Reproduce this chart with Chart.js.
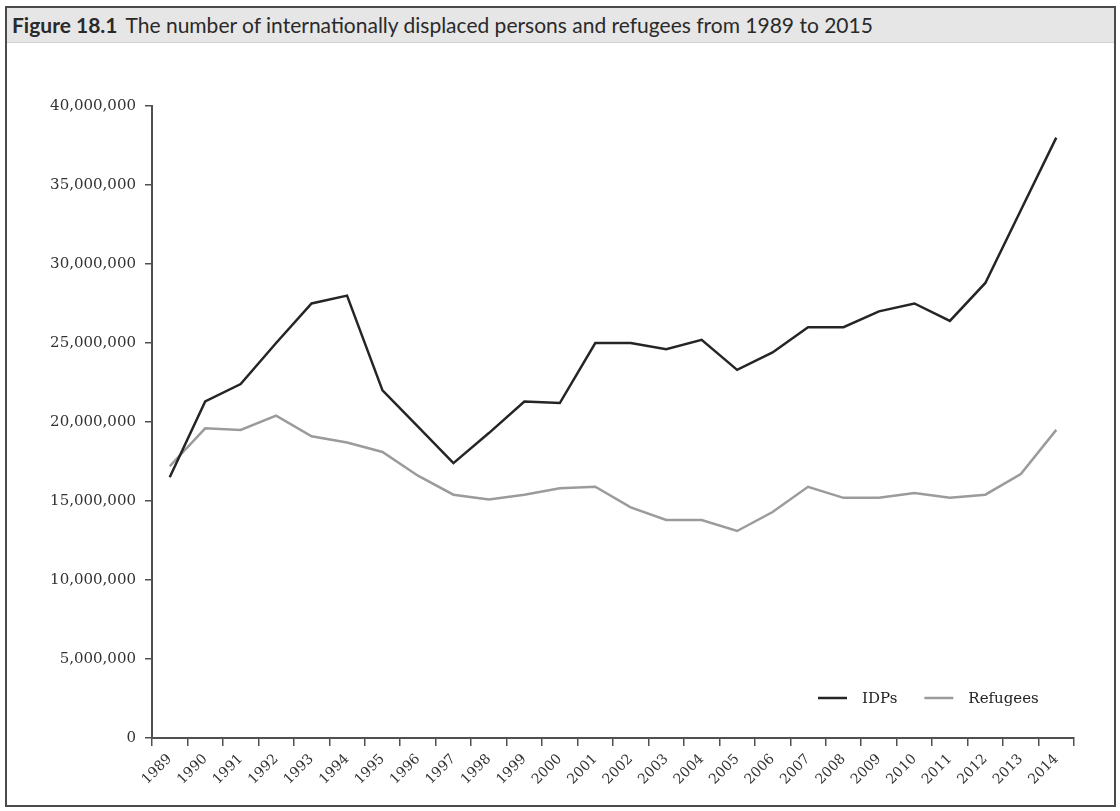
<!DOCTYPE html>
<html>
<head>
<meta charset="utf-8">
<script src="https://cdn.jsdelivr.net/npm/chart.js@4/dist/chart.umd.min.js"></script>
<style>
  html, body { margin: 0; padding: 0; background: #fff; }
  #frame {
    position: absolute; left: 5px; top: 6px; width: 1107px; height: 797px;
    border: 2px solid #4a4a4a; background: #fff;
  }
  #titlebar {
    position: absolute; left: 0; top: 0; right: 0; height: 34px;
    background: #e6e6e6; border-bottom: 1px solid #d0d0d0;
    font-family: Lato, "Open Sans", sans-serif; font-size: 21px; color: #2a2a2a;
    line-height: 34px; padding-left: 5px; white-space: nowrap;
  }
  #titlebar b { font-weight: 700; margin-right: 8px; }
  #wrap { position: absolute; left: 0; top: 35px; }
</style>
</head>
<body>
<div id="frame">
  <div id="titlebar"><b>Figure 18.1</b>The number of internationally displaced persons and refugees from 1989 to 2015</div>
  <div id="wrap"><canvas id="chart" width="1105" height="762"></canvas></div>
</div>
<script>
// years on the x axis
const years = ['1989', '1990', '1991', '1992', '1993', '1994', '1995', '1996', '1997', '1998', '1999', '2000', '2001',
    '2002', '2003', '2004', '2005', '2006', '2007', '2008', '2009', '2010', '2011', '2012', '2013', '2014'];

// values
const idps = [16.5, 21.3, 22.4, 25.0, 27.5, 28.0, 22.0, 19.7, 17.4, 19.3, 21.3, 21.2, 25.0,
    25.0, 24.6, 25.2, 23.3, 24.4, 26.0, 26.0, 27.0, 27.5, 26.4, 28.8, 33.4, 38.0].map(v => v * 1e6);
const refugees = [17.2, 19.6, 19.5, 20.4, 19.1, 18.7, 18.1, 16.6, 15.4, 15.1, 15.4, 15.8, 15.9,
    14.6, 13.8, 13.8, 13.1, 14.3, 15.9, 15.2, 15.2, 15.5, 15.2, 15.4, 16.7, 19.5].map(v => v * 1e6);

const yTicks = [0, 5e6, 10e6, 15e6, 20e6, 25e6, 30e6, 35e6, 40e6];

const axisColor = '#505050';
const serif = '"DejaVu Serif", "Liberation Serif", serif';

// legend drawn inside the plot, bottom right
const insideLegend = {
    id: 'insideLegend',
    afterDraw(chart) {
        const ctx = chart.ctx;
        const area = chart.chartArea;
        let x = area.right - 256;
        const y = area.bottom - 40;
        ctx.save();
        ctx.font = '15px ' + serif;
        ctx.textBaseline = 'middle';
        chart.data.datasets.forEach(ds => {
            ctx.strokeStyle = ds.borderColor;
            ctx.lineWidth = ds.borderWidth;
            ctx.beginPath();
            ctx.moveTo(x, y);
            ctx.lineTo(x + 29, y);
            ctx.stroke();
            ctx.fillStyle = '#222';
            ctx.fillText(ds.label, x + 44, y + 1);
            x += 44 + ctx.measureText(ds.label).width + 27;
        });
        ctx.restore();
    }
};

new Chart(document.getElementById('chart'), {
    type: 'line',
    data: {
        labels: years,
        datasets: [{
            label: 'IDPs',
            data: idps,
            borderColor: '#252525',
            borderWidth: 2.5,
            pointRadius: 0,
            tension: 0,
            fill: false
        }, {
            label: 'Refugees',
            data: refugees,
            borderColor: '#9b9b9b',
            borderWidth: 2.5,
            pointRadius: 0,
            tension: 0,
            fill: false
        }]
    },
    options: {
        responsive: false,
        animation: false,
        layout: { padding: { top: 63, right: 38, bottom: 7, left: 0 } },
        plugins: {
            legend: { display: false },
            tooltip: { enabled: false },
            title: { display: false }
        },
        scales: {
            x: {
                offset: true,
                grid: { offset: true, drawOnChartArea: false, tickLength: 8, color: axisColor, lineWidth: 1.5 },
                border: { display: true, color: axisColor, width: 2 },
                ticks: {
                    minRotation: 45, maxRotation: 45, autoSkip: false, padding: 5,
                    color: '#333', font: { family: serif, size: 14 }
                },
                afterFit(scale) { scale.height = 60; }
            },
            y: {
                min: 0,
                max: 40e6,
                grid: { drawOnChartArea: false, tickLength: 7, color: axisColor, lineWidth: 1.5 },
                border: { display: true, color: axisColor, width: 2 },
                afterBuildTicks(scale) { scale.ticks = yTicks.map(v => ({ value: v })); },
                ticks: {
                    padding: 9, color: '#333', font: { family: serif, size: 15 },
                    callback: v => v.toLocaleString('en-US')
                },
                afterFit(scale) { scale.width = 145; }
            }
        }
    },
    plugins: [insideLegend]
});
</script>
</body>
</html>
